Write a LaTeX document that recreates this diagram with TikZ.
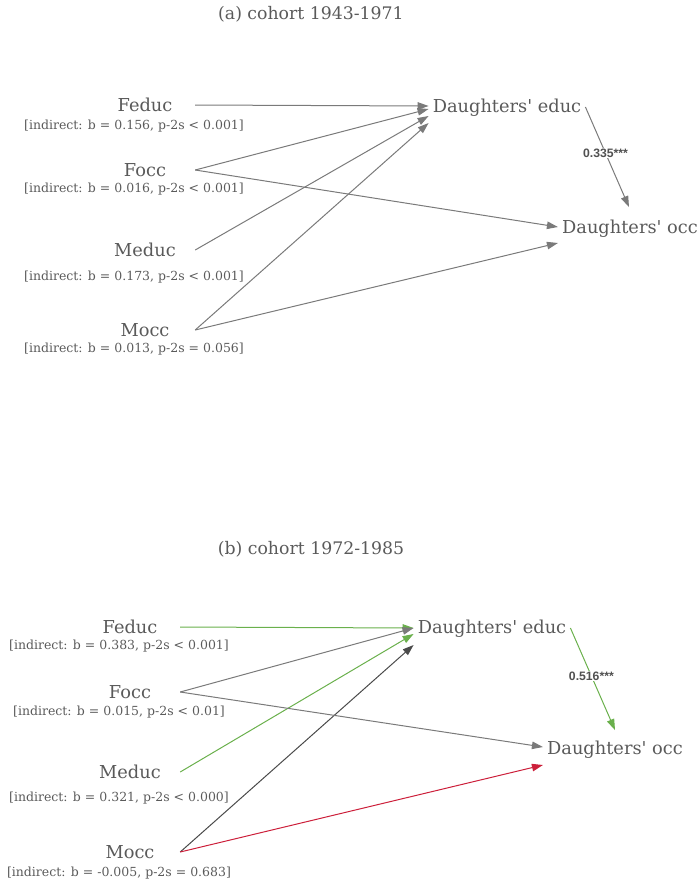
\documentclass[tikz,border=0pt]{standalone}
\usepackage{fontspec}
\setmainfont{DejaVu Serif}
\newfontfamily\numfont{Liberation Sans}
\usetikzlibrary{arrows.meta}
\definecolor{txtgray}{HTML}{5A5A5A}
\definecolor{pathgray}{HTML}{7A7A7A}
\definecolor{pathdark}{HTML}{4A4A4A}
\definecolor{pathgreen}{HTML}{6AB04C}
\definecolor{pathred}{HTML}{CC1F3A}

\begin{document}
\begin{tikzpicture}[x=1pt,y=-1pt]
\tikzstyle{every node}+=[text=txtgray]
\tikzstyle{title}=[font=\fontsize{17.3}{19}\selectfont]
\tikzstyle{parent}=[font=\fontsize{17.8}{20}\selectfont,minimum width=100pt,inner sep=0pt]
\tikzstyle{child}=[font=\fontsize{17.8}{20}\selectfont,inner sep=4pt]
\tikzstyle{note}=[font=\fontsize{12.5}{14}\selectfont,inner sep=0pt]
\tikzstyle{path}=[line width=1pt,-{Triangle[length=11pt,width=7.5pt]}]
\tikzstyle{coef}=[font=\numfont\bfseries\fontsize{12.2}{14}\selectfont,fill=white,inner sep=1pt,text=txtgray!90!black]
\useasboundingbox (0,0) rectangle (698,884);
% (a) cohort 1943-1971
\node [title] (titleA) at (311,14) {(a) cohort 1943-1971};
\node [parent] (feducA) at (145,105) {Feduc};
\node [note] (feducNoteA) at (134,126) {[indirect: b = 0.156, p-2s < 0.001]};
\node [parent] (foccA) at (145,170) {Focc};
\node [note] (foccNoteA) at (134,189) {[indirect: b = 0.016, p-2s < 0.001]};
\node [parent] (meducA) at (145,250) {Meduc};
\node [note] (meducNoteA) at (134,277) {[indirect: b = 0.173, p-2s < 0.001]};
\node [parent] (moccA) at (145,330) {Mocc};
\node [note] (moccNoteA) at (134,349) {[indirect: b = 0.013, p-2s = 0.056]};
\node [child] (educA) at (507,108) {Daughters\textquotesingle\ educ};
\node [child] (occA) at (630,229) {Daughters\textquotesingle\ occ};
\draw [path,pathgray] (feducA.east) -- ([yshift=2pt]educA.west);
\draw [path,pathgray] (foccA.east) -- ([yshift=-1pt]educA.west);
\draw [path,pathgray] (meducA.east) -- ([yshift=-8pt]educA.west);
\draw [path,pathgray] (moccA.east) -- ([yshift=-15pt]educA.west);
\draw [path,pathgray] (foccA.east) -- ([yshift=2pt]occA.west);
\draw [path,pathgray] (moccA.east) -- ([yshift=-14pt]occA.west);
\draw [path,pathgray] ([yshift=1pt]educA.east) -- ([xshift=-1pt,yshift=9pt]occA.north) node [coef,pos=0.46] {0.335***};
% (b) cohort 1972-1985
\node [title] (titleB) at (311,549) {(b) cohort 1972-1985};
\node [parent] (feducB) at (130,627) {Feduc};
\node [note] (feducNoteB) at (119,646) {[indirect: b = 0.383, p-2s < 0.001]};
\node [parent] (foccB) at (130,692) {Focc};
\node [note] (foccNoteB) at (119,712) {[indirect: b = 0.015, p-2s < 0.01]};
\node [parent] (meducB) at (130,772) {Meduc};
\node [note] (meducNoteB) at (119,798) {[indirect: b = 0.321, p-2s < 0.000]};
\node [parent] (moccB) at (130,852) {Mocc};
\node [note] (moccNoteB) at (119,873) {[indirect: b = -0.005, p-2s = 0.683]};
\node [child] (educB) at (492,629) {Daughters\textquotesingle\ educ};
\node [child] (occB) at (615,750) {Daughters\textquotesingle\ occ};
\draw [path,pathgreen] (feducB.east) -- ([yshift=1pt]educB.west);
\draw [path,pathgray] (foccB.east) -- ([yshift=1pt]educB.west);
\draw [path,pathgreen] (meducB.east) -- ([yshift=-5pt]educB.west);
\draw [path,pathdark] (moccB.east) -- ([yshift=-16pt]educB.west);
\draw [path,pathgray] (foccB.east) -- ([yshift=3pt]occB.west);
\draw [path,pathred] (moccB.east) -- ([yshift=-15pt]occB.west);
\draw [path,pathgreen] ([yshift=1pt]educB.east) -- ([yshift=7pt]occB.north) node [coef,pos=0.47] {0.516***};
\end{tikzpicture}
\end{document}
